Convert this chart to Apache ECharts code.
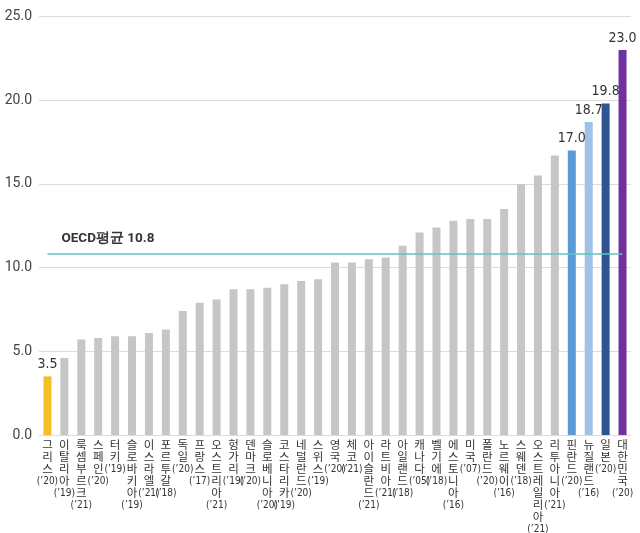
<!DOCTYPE html>
<html>
<head>
    <meta charset="utf-8"/>
    <title>OECD 비교</title>
    <style>
        html, body { margin: 0; padding: 0; background: #fff; }
        #chart { width: 640px; height: 533px; }
    </style>
</head>
<body>
<div id="chart"></div>
<script src="https://cdn.jsdelivr.net/npm/echarts@6/dist/echarts.min.js"></script>
<script>
    // 국가, 기준연도, 값
    var countries = ['그리스', '이탈리아', '룩셈부르크', '스페인', '터키', '슬로바키아', '이스라엘', '포르투갈', '독일', '프랑스',
        '오스트리아', '헝가리', '덴마크', '슬로베니아', '코스타리카', '네덜란드', '스위스', '영국', '체코', '아이슬란드',
        '라트비아', '아일랜드', '캐나다', '벨기에', '에스토니아', '미국', '폴란드', '노르웨이', '스웨덴', '오스트레일리아',
        '리투아니아', '핀란드', '뉴질랜드', '일본', '대한민국'];
    var years = ['20', '19', '21', '20', '19', '19', '21', '18', '20', '17',
        '21', '19', '20', '20', '19', '20', '19', '20', '21', '21',
        '21', '18', '05', '18', '16', '07', '20', '16', '18', '21',
        '21', '20', '16', '20', '20'];
    var values = [3.5, 4.6, 5.7, 5.8, 5.9, 5.9, 6.1, 6.3, 7.4, 7.9,
        8.1, 8.7, 8.7, 8.8, 9.0, 9.2, 9.3, 10.3, 10.3, 10.5,
        10.6, 11.3, 12.1, 12.4, 12.8, 12.9, 12.9, 13.5, 15.0, 15.5,
        16.7, 17.0, 18.7, 19.8, 23.0];
    var oecdAvg = 10.8;
    var yTicks = [0, 5, 10, 15, 20, 25];

    var barColor = '#c6c6c6';
    var highlight = {
        '그리스': '#f6bd28',
        '핀란드': '#5b9bd5',
        '뉴질랜드': '#9fc2e7',
        '일본': '#2e5592',
        '대한민국': '#7030a0'
    };
    var narrow = 'DejaVu Sans Condensed, Liberation Sans Narrow, sans-serif';

    var barData = values.map(function (v, i) {
        var name = countries[i];
        var item = {value: v, itemStyle: {color: highlight[name] || barColor}};
        if (highlight[name]) {
            item.label = {show: true};
        }
        return item;
    });

    var option = {
        animation: false,
        grid: {left: 39, right: 9, top: 16.5, bottom: 98, outerBoundsMode: 'none'},
        xAxis: {
            type: 'category',
            data: countries,
            axisLine: {show: false},
            axisTick: {show: false},
            axisLabel: {
                interval: 0,
                margin: 4,
                verticalAlign: 'top',
                formatter: function (value, index) {
                    return '{c|' + value.split('').join('\n') + '}\n{y|(\u2019' + years[index] + ')}';
                },
                rich: {
                    c: {
                        fontFamily: 'Noto Sans CJK KR',
                        fontSize: 11.5,
                        lineHeight: 12,
                        color: '#333'
                    },
                    y: {
                        fontFamily: narrow,
                        fontSize: 10,
                        lineHeight: 13,
                        color: '#333'
                    }
                }
            }
        },
        yAxis: {
            type: 'value',
            min: yTicks[0],
            max: yTicks[yTicks.length - 1],
            interval: 5,
            axisLine: {show: false},
            axisTick: {show: false},
            splitLine: {lineStyle: {color: '#dcdcdc', width: 1}},
            axisLabel: {
                margin: 7,
                fontFamily: 'Roboto, sans-serif',
                fontSize: 14,
                color: '#444',
                formatter: function (v) { return v.toFixed(1); }
            }
        },
        series: [{
            type: 'bar',
            data: barData,
            barWidth: 8,
            label: {
                show: false,
                position: 'top',
                distance: 5,
                fontFamily: narrow,
                fontSize: 14,
                color: '#333',
                formatter: function (p) { return p.value.toFixed(1); }
            },
            markLine: {
                silent: true,
                symbol: 'none',
                lineStyle: {color: '#5fc4bd', width: 1.5, type: 'solid'},
                label: {
                    show: true,
                    position: 'insideStartTop',
                    distance: [14, 9],
                    fontFamily: 'Roboto, sans-serif',
                    fontSize: 13.5,
                    fontWeight: 'bold',
                    color: '#333',
                    formatter: 'OECD평균 ' + oecdAvg.toFixed(1)
                },
                data: [[
                    {coord: [0, oecdAvg]},
                    {coord: [countries.length - 1, oecdAvg]}
                ]]
            }
        }]
    };

    var myChart = echarts.init(document.getElementById('chart'));
    myChart.setOption(option);
</script>
</body>
</html>
